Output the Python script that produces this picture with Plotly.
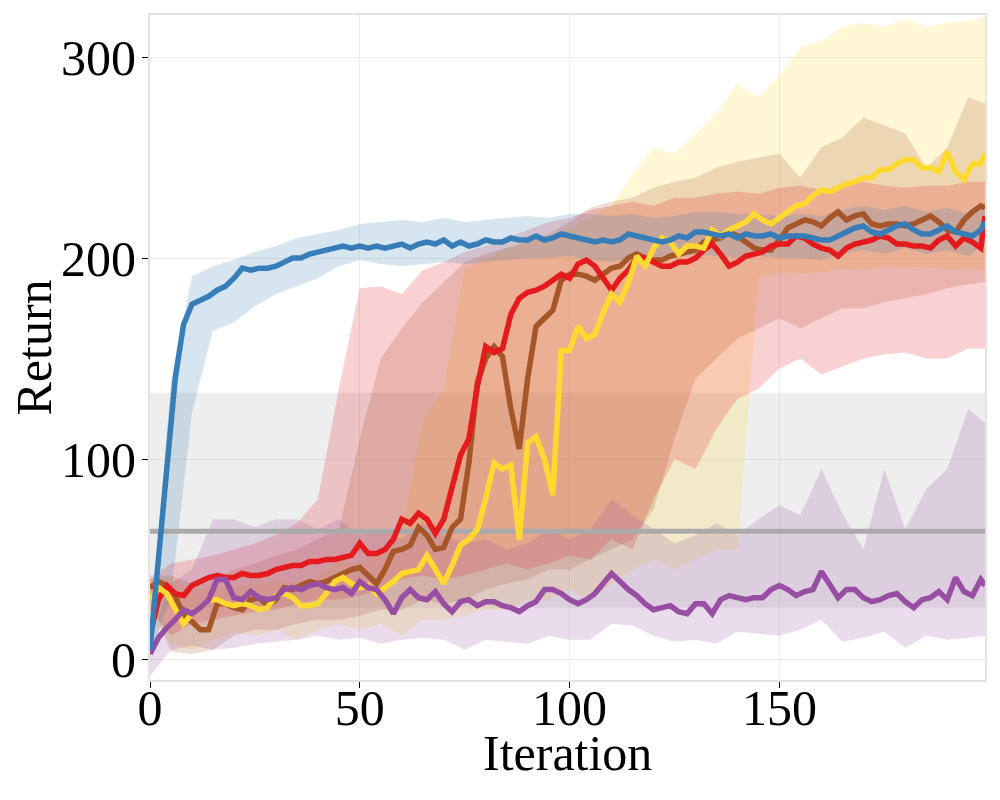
import plotly.graph_objects as go

# ------------------------
# data
# ------------------------
ITER_LINE = list(range(0, 200, 2)) + [199]
ITER_BAND = list(range(0, 200, 5)) + [199]

BLUE_MEAN = [5, 48, 92, 140, 167, 177, 179, 181, 184, 186, 190, 195, 194, 195, 195, 196, 198, 200, 200, 202,
             203, 204, 205, 206, 205, 206, 205, 206, 205, 206, 207, 205, 207, 208, 207, 209, 206, 208, 206, 207,
             209, 208, 208, 210, 209, 209, 211, 209, 210, 212, 211, 210, 209, 208, 209, 208, 209, 212, 211, 210,
             209, 208, 209, 211, 210, 213, 213, 212, 211, 212, 210, 212, 211, 211, 212, 210, 211, 211, 211, 210,
             209, 209, 211, 213, 215, 216, 213, 212, 214, 216, 217, 214, 212, 212, 214, 216, 213, 212, 211, 214,
             218]
RED_MEAN = [12, 30, 37, 33, 32, 37, 39, 41, 42, 41, 41, 43, 42, 42, 43, 45, 46, 47, 47, 49,
            49, 50, 50, 51, 52, 58, 53, 53, 55, 60, 70, 68, 73, 70, 63, 70, 85, 102, 110, 136,
            156, 153, 155, 172, 180, 183, 184, 186, 189, 192, 190, 197, 199, 196, 190, 184, 190, 194, 200, 200,
            198, 196, 196, 198, 198, 200, 204, 207, 202, 196, 198, 201, 202, 203, 206, 207, 207, 211, 210, 207,
            205, 204, 201, 205, 207, 208, 209, 211, 210, 207, 207, 206, 206, 205, 209, 211, 206, 210, 208, 205,
            221]
BROWN_MEAN = [36, 39, 37, 32, 22, 19, 15, 15, 28, 28, 26, 25, 30, 31, 27, 30, 36, 35, 37, 39,
              38, 39, 41, 43, 45, 46, 42, 38, 45, 54, 55, 57, 66, 62, 55, 56, 66, 70, 98, 138,
              150, 156, 151, 125, 105, 140, 166, 170, 174, 189, 192, 192, 191, 189, 192, 195, 196, 200, 202, 200,
              199, 199, 201, 202, 203, 204, 208, 209, 210, 213, 211, 208, 205, 204, 204, 209, 215, 217, 219, 218,
              216, 220, 223, 219, 221, 222, 217, 216, 217, 217, 216, 217, 219, 221, 218, 214, 213, 219, 223, 226,
              225]
YELLOW_MEAN = [30, 36, 33, 25, 18, 23, 26, 30, 30, 28, 27, 28, 27, 25, 26, 32, 33, 31, 27, 27,
               28, 33, 39, 41, 38, 36, 37, 33, 36, 39, 43, 44, 45, 52, 45, 38, 47, 57, 60, 65,
               80, 98, 95, 97, 60, 108, 111, 100, 82, 154, 154, 166, 160, 162, 173, 182, 178, 188, 201, 196,
               205, 210, 208, 202, 206, 206, 205, 214, 211, 214, 216, 218, 222, 219, 217, 220, 223, 226, 227, 231,
               234, 233, 235, 237, 238, 240, 240, 244, 244, 247, 249, 249, 245, 245, 243, 253, 243, 239, 247, 247,
               252]
PURPLE_MEAN = [3, 11, 16, 20, 25, 23, 26, 30, 40, 40, 31, 30, 34, 31, 30, 31, 35, 36, 35, 37,
               38, 36, 35, 36, 33, 39, 36, 35, 30, 23, 31, 35, 31, 30, 34, 28, 24, 29, 30, 27,
               29, 29, 27, 26, 24, 27, 29, 35, 35, 33, 30, 28, 30, 33, 38, 43, 39, 35, 32, 28,
               25, 26, 27, 24, 23, 28, 28, 23, 30, 32, 31, 30, 31, 31, 35, 37, 35, 32, 34, 35,
               44, 38, 31, 35, 35, 31, 29, 30, 32, 33, 29, 26, 30, 31, 34, 30, 41, 34, 32, 40,
               37]

BLUE_HI = [8, 139, 191, 196, 199, 203, 206, 210, 212, 214, 217, 218, 219, 218, 220, 218, 219, 220, 221, 220,
           222, 222, 221, 222, 220, 221, 223, 223, 222, 222, 221, 222, 221, 224, 226, 224, 226, 223, 225, 222, 226]
BLUE_LO = [2, 32, 123, 164, 168, 176, 182, 186, 190, 196, 199, 197, 196, 197, 198, 197, 198, 199, 200, 200,
           201, 199, 198, 200, 199, 200, 202, 201, 200, 201, 200, 200, 199, 202, 204, 202, 205, 202, 204, 201, 207]
RED_HI = [40, 48, 50, 52, 55, 58, 62, 68, 80, 135, 185, 186, 182, 194, 198, 203, 206, 210, 214, 218,
          220, 224, 226, 228, 226, 230, 230, 232, 233, 232, 235, 236, 234, 236, 238, 236, 235, 236, 236, 238, 238]
RED_LO = [25, 12, 18, 20, 22, 24, 25, 28, 30, 30, 32, 35, 40, 42, 40, 42, 45, 48, 45, 48,
          52, 50, 60, 55, 80, 100, 95, 115, 130, 135, 145, 150, 142, 146, 150, 152, 153, 150, 150, 155, 155]
BROWN_HI = [42, 42, 38, 40, 45, 48, 52, 55, 60, 65, 110, 150, 165, 178, 188, 198, 202, 205, 208, 212,
            218, 225, 228, 230, 235, 238, 240, 245, 248, 250, 252, 240, 255, 260, 270, 266, 262, 245, 255, 280, 277]
BROWN_LO = [30, 4, 3, 5, 12, 15, 15, 18, 20, 20, 22, 25, 25, 30, 28, 30, 35, 38, 40, 45,
            45, 50, 55, 60, 75, 110, 140, 150, 160, 165, 170, 165, 170, 175, 175, 178, 180, 182, 185, 187, 188]
YELLOW_HI = [40, 40, 35, 36, 36, 38, 40, 38, 42, 50, 48, 55, 62, 120, 135, 195, 200, 205, 208, 210,
             215, 220, 226, 242, 255, 252, 262, 272, 287, 280, 291, 305, 308, 315, 317, 315, 319, 315, 317, 318, 320]
YELLOW_LO = [20, 8, 5, 10, 14, 12, 15, 10, 15, 18, 15, 18, 12, 20, 20, 22, 25, 25, 30, 30,
             35, 30, 38, 45, 50, 45, 50, 55, 55, 190, 193, 192, 193, 195, 194, 196, 195, 196, 194, 195, 194]
PURPLE_HI = [10, 38, 45, 70, 70, 66, 70, 70, 65, 70, 62, 65, 60, 68, 62, 58, 60, 55, 58, 65,
             60, 65, 80, 72, 65, 58, 62, 68, 62, 70, 77, 72, 95, 73, 55, 95, 65, 85, 95, 125, 118]
PURPLE_LO = [-8, 5, 7, 5, 6, 8, 9, 10, 12, 10, 11, 8, 10, 11, 10, 5, 10, 9, 8, 12,
             10, 10, 18, 17, 12, 9, 10, 8, 14, 13, 12, 15, 20, 9, 11, 14, 6, 12, 10, 11, 12]

BASELINE_MEAN = 64
BASELINE_LO = 26
BASELINE_HI = 133

SERIES = [
    # name, rgb, mean, lo, hi  (line drawing order)
    ("brown", (166, 86, 40), BROWN_MEAN, BROWN_LO, BROWN_HI),
    ("red", (228, 26, 28), RED_MEAN, RED_LO, RED_HI),
    ("yellow", (255, 217, 47), YELLOW_MEAN, YELLOW_LO, YELLOW_HI),
    ("purple", (152, 78, 163), PURPLE_MEAN, PURPLE_LO, PURPLE_HI),
    ("blue", (55, 126, 184), BLUE_MEAN, BLUE_LO, BLUE_HI),
]
FILL_ORDER = ["yellow", "brown", "red", "purple", "blue"]

fig = go.Figure()

# gray baseline band
fig.add_trace(go.Scatter(
    x=[0, 199, 199, 0], y=[BASELINE_HI, BASELINE_HI, BASELINE_LO, BASELINE_LO],
    fill="toself", fillcolor="rgba(170,170,170,0.2)", line=dict(width=0),
    mode="lines", hoverinfo="skip", showlegend=False))

lookup = {s[0]: s for s in SERIES}
for key in FILL_ORDER:
    name, (r, g, b), mean, lo, hi = lookup[key]
    fig.add_trace(go.Scatter(
        x=ITER_BAND + ITER_BAND[::-1], y=hi + lo[::-1],
        fill="toself", fillcolor=f"rgba({r},{g},{b},0.2)", line=dict(width=0),
        mode="lines", hoverinfo="skip", showlegend=False))

# gray baseline mean
fig.add_trace(go.Scatter(
    x=[0, 199], y=[BASELINE_MEAN, BASELINE_MEAN], mode="lines",
    line=dict(color="#aaaaaa", width=5), showlegend=False))

for name, (r, g, b), mean, lo, hi in SERIES:
    fig.add_trace(go.Scatter(
        x=ITER_LINE, y=mean, mode="lines", name=name,
        line=dict(color=f"rgb({r},{g},{b})", width=5.5), showlegend=False))

font = "Liberation Serif, Times New Roman, serif"
fig.update_layout(
    width=1000, height=800,
    margin=dict(l=142, r=23, t=7, b=128),
    plot_bgcolor="white", paper_bgcolor="white",
    font=dict(family=font, size=50, color="black"),
    showlegend=False,
)
axis_style = dict(
    showgrid=True, gridcolor="#ececec", gridwidth=1,
    showline=True, linecolor="#e3e3e3", linewidth=2, mirror=True,
    ticks="outside", ticklen=6, tickcolor="black", zeroline=False,
    automargin=False, tickfont=dict(size=50),
)
fig.update_xaxes(range=[0, 199], tickvals=[0, 50, 100, 150], ticklabelstandoff=-23, **axis_style)
fig.update_yaxes(range=[-10, 321], tickvals=[0, 100, 200, 300], ticklabelstandoff=-4, **axis_style)

# axis titles placed as annotations to keep the plot box fixed
fig.add_annotation(text="Iteration", xref="paper", yref="paper", x=0.5, y=0,
                   xanchor="center", yanchor="top", yshift=-44, showarrow=False,
                   borderpad=0, font=dict(size=50))
fig.add_annotation(text="Return", xref="paper", yref="paper", x=0, y=0.5,
                   xanchor="center", yanchor="middle", xshift=-117, textangle=-90,
                   showarrow=False, borderpad=0, font=dict(size=50))

fig.write_html("out.html")
